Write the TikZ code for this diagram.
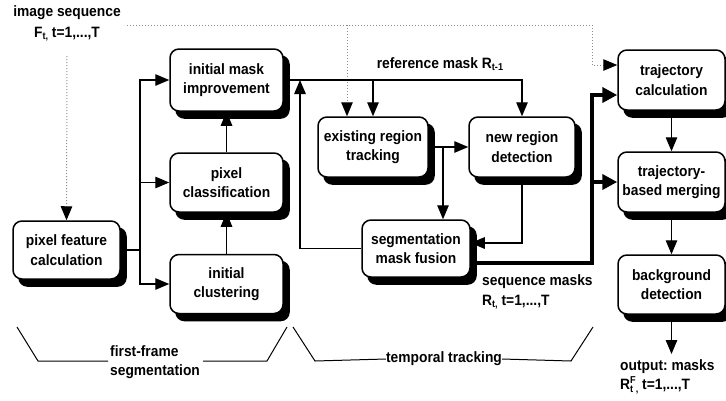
\documentclass[tikz,border=0pt]{standalone}
\usepackage{fontspec}
\setmainfont{Liberation Sans}[FakeStretch=0.92]
\usetikzlibrary{arrows.meta,calc,backgrounds}
\frenchspacing

\newcommand\subtxt[1]{\raisebox{-0.35ex}{\fontsize{10}{10}\selectfont #1}}
\newcommand\suptxt[1]{\raisebox{0.75ex}{\fontsize{10}{10}\selectfont #1}}
% black offset shadow behind a named box
\newcommand\boxshadow[1]{%
  \fill[rounded corners=9pt] ($(#1.south west)+(6,7)$) rectangle ($(#1.north east)+(6,7)$);}

\begin{document}
\begin{tikzpicture}[x=1pt,y=-1pt,
  font=\bfseries\fontsize{15}{19.5}\selectfont,
  box/.style={draw,line width=1.5pt,rounded corners=9pt,fill=white,
    align=center,inner sep=0pt},
  lbl/.style={inner sep=0pt,align=left},
  conn/.style={line width=1.3pt},
  arr/.style={conn,-{Triangle[length=14pt,width=11.5pt]}},
  tarr/.style={line width=3.8pt,-{Triangle[length=15pt,width=15pt]}},
  dot/.style={dotted,line width=1pt,black!45},
  darr/.style={dot,-{Triangle[length=14pt,width=11.5pt,black]}},
  brace/.style={line width=1pt}]

\clip (0,0) rectangle (726,400);

% first-frame segmentation
\node[box,minimum width=107pt,minimum height=58pt] (pfc) at (66.5,250) {pixel feature\\calculation};
\node[box,minimum width=113pt,minimum height=62pt] (imi) at (226.5,80) {initial mask\\improvement};
\node[box,minimum width=113pt,minimum height=59pt] (pc) at (226.5,182.5) {pixel\\classification};
\node[box,minimum width=113pt,minimum height=59pt] (ic) at (226.5,284) {initial\\clustering};

% temporal tracking
\node[box,minimum width=110pt,minimum height=60pt] (ert) at (373,147) {existing region\\tracking};
\node[box,minimum width=106pt,minimum height=60pt] (nrd) at (522,147) {new region\\detection};
\node[box,minimum width=108pt,minimum height=57pt] (smf) at (416,248.5) {segmentation\\mask fusion};

% post-processing column
\node[box,minimum width=107pt,minimum height=60pt] (tc) at (671.5,80) {trajectory\\calculation};
\node[box,minimum width=107pt,minimum height=60pt] (tbm) at (671.5,182) {trajectory-\\based merging};
\node[box,minimum width=107pt,minimum height=59pt] (bd) at (671.5,284.5) {background\\detection};

\begin{scope}[on background layer]
  \foreach \b in {pfc,imi,pc,ic,ert,nrd,smf,tc,tbm,bd} {\boxshadow{\b}}
\end{scope}

% labels
\node[lbl] (seq) at (67,13) {image sequence};
\node[lbl] (fseq) at (67,34) {F\subtxt{t,} t=1,...,T};
\node[lbl] (refm) at (440,64) {reference mask R\subtxt{t-1}};
\node[lbl,anchor=west] (seqm) at (482,292) {sequence masks\\R\subtxt{t,} t=1,...,T};
\node[lbl,anchor=north west] (outm) at (620,359) {output: masks\\R\rlap{\subtxt{t}}\suptxt{F}\subtxt{,} t=1,...,T};
\node[lbl,anchor=west] (ffs) at (110,362) {first-frame\\segmentation};
\node[lbl] (tt) at (444,359) {temporal tracking};

% dotted input lines
\coordinate (din) at (67,56);
\coordinate (dtop) at (127,25);
\coordinate (dsplit) at (347,25);
\coordinate (dcorner) at (592,25);
\draw[darr] (din) -- (pfc.north);
\draw[dot] (dtop) -- (dcorner);
\draw[darr] (dcorner) |- ($(tc.west)+(0,-15)$);
\draw[darr] (dsplit) -- (dsplit |- ert.north);

% first-frame connections
\coordinate (sp) at (140,250);
\draw[conn] (pfc.east) -- (sp);
\draw[arr] (sp) |- (imi.west);
\draw[arr] (sp) |- (pc.west);
\draw[arr] (sp) |- (ic.west);
\draw[arr] (ic.north) -- (pc.south);
\draw[arr] (pc.north) -- (imi.south);

% reference mask distribution
\coordinate (rsplit) at (373,80);
\draw[arr] (imi.east) -| (nrd.north);
\draw[arr] (rsplit) -- (ert.north);

% feedback from mask fusion
\coordinate (fb) at (300,80);
\draw[arr] (smf.west) -| (fb);

% tracking connections
\coordinate (tsplit) at (443,147);
\draw[arr] (ert.east) -- (nrd.west);
\draw[arr] (tsplit) -- (tsplit |- smf.north);
\draw[arr] (nrd.south) |- ($(smf.east)+(0,-5.5)$);

% sequence masks output
\coordinate (sm) at (592,263);
\draw[line width=3.8pt] ($(smf.east)+(0,14.5)$) -- (sm);
\draw[tarr] ($(sm)+(0,1.9)$) |- ($(tc.west)+(0,15)$);
\draw[tarr] (sm |- tbm.west) -- (tbm.west);

% post-processing chain
\coordinate (out) at (671.5,354);
\draw[arr] (tc.south) -- (tbm.north);
\draw[arr] (tbm.south) -- (bd.north);
\draw[arr] (bd.south) -- (out);

% phase brackets
\draw[brace] (17,327) -- (38,361) -- (108,361);
\draw[brace] (203,361) -- (267,361) -- (287,327);
\draw[brace] (293,327) -- (315,361) -- (tt.west);
\draw[brace] (tt.east) -- (571,361) -- (593,327);

\end{tikzpicture}
\end{document}
